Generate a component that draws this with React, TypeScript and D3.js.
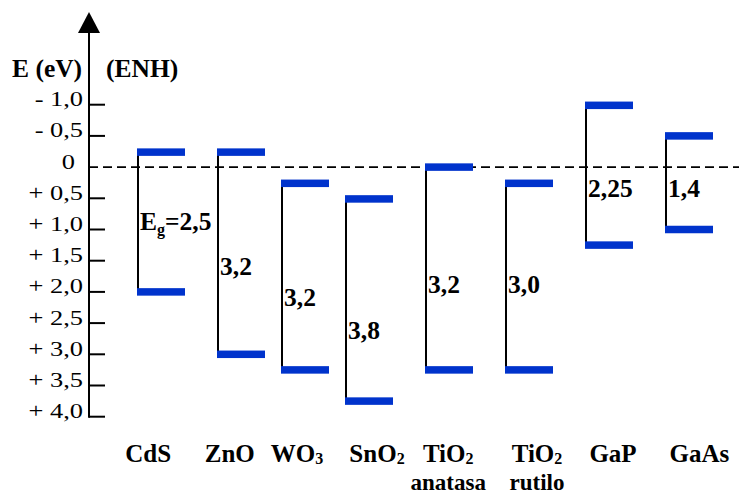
import React from "react";
import * as d3 from "d3";

const names = ["CdS", "ZnO", "WO", "SnO", "TiO", "TiO", "GaP", "GaAs"];
const subs = ["", "", "3", "2", "2", "2", "", ""];
const secondLine = ["", "", "", "", "anatasa", "rutilo", "", ""];
const conductionBand = [-0.24, -0.24, 0.26, 0.51, 0.0, 0.26, -0.99, -0.5];
const valenceBand = [2.0, 3.0, 3.25, 3.75, 3.25, 3.25, 1.25, 1.0];
const gapLabels = ["2,5", "3,2", "3,2", "3,8", "3,2", "3,0", "2,25", "1,4"];
const gapLabelAt = [1.01, 1.73, 2.23, 2.76, 2.02, 2.02, 0.48, 0.48];
const barSlots = [0, 1, 1.8, 2.6, 3.6, 4.6, 5.6, 6.6];
const labelSlots = [0.14, 1.16, 2.0, 3.0, 3.89, 5.0, 5.95, 7.03];
const tickValues = [-1, -0.5, 0, 0.5, 1, 1.5, 2, 2.5, 3, 3.5, 4];
const tickLabels = ["- 1,0", "- 0,5", "0", "+ 0,5", "+ 1,0", "+ 1,5", "+ 2,0", "+ 2,5", "+ 3,0", "+ 3,5", "+ 4,0"];

const W = 739;
const H = 497;
const FONT = "Liberation Serif, Times New Roman, Tinos, DejaVu Serif, Noto Serif, serif";
const BLUE = "#0033cc";

export default function App() {
  const y = d3.scaleLinear().domain([-1, 4]).range([104.7, 416.7]);
  const x = d3.scaleLinear().domain([0, 1]).range([137, 217]);
  const barW = x(0.6) - x(0);
  const axisX = 89;
  const barH = 7.5;
  const textStyle = { fontFamily: FONT };

  return (
    <svg width={W} height={H} style={{ position: "absolute", left: 0, top: 0, background: "#fff" }}>
      <line x1={axisX} x2={W} y1={y(0)} y2={y(0)} stroke="#000" strokeWidth={1.6} strokeDasharray="9,5" />
      <line x1={axisX} x2={axisX} y1={28} y2={y(4) + 1} stroke="#000" strokeWidth={2} />
      <path d={`M${axisX},12 L${axisX - 11},33 L${axisX + 11},33 Z`} fill="#000" />
      {tickValues.map((v, i) => (
        <g key={i}>
          {v !== 0 && <line x1={axisX} x2={axisX + 16} y1={y(v)} y2={y(v)} stroke="#000" strokeWidth={2} />}
          <text
            transform={`translate(${v === 0 ? 75 : 83},${y(v) + 1.5}) scale(1.2,1)`}
            textAnchor="end"
            style={textStyle}
            fontSize={22}
          >
            {tickLabels[i]}
          </text>
        </g>
      ))}
      <text x={12} y={77} style={textStyle} fontSize={25.5} fontWeight="bold">E (eV)</text>
      <text x={106} y={77} style={textStyle} fontSize={25.5} fontWeight="bold">(ENH)</text>

      {names.map((n, i) => {
        const left = x(barSlots[i]);
        const lx = x(labelSlots[i]);
        return (
          <g key={i}>
            <line x1={left + 1} x2={left + 1} y1={y(conductionBand[i]) - 3} y2={y(valenceBand[i]) + 1} stroke="#000" strokeWidth={2} />
            <rect x={left} y={y(conductionBand[i]) - barH / 2} width={barW} height={barH} fill={BLUE} />
            <rect x={left} y={y(valenceBand[i]) - barH / 2} width={barW} height={barH} fill={BLUE} />
            <text x={left + 3} y={y(gapLabelAt[i])} style={textStyle} fontSize={25.5} fontWeight="bold">
              {i === 0 && (
                <>
                  <tspan>E</tspan>
                  <tspan fontSize={16} dy={5}>g</tspan>
                  <tspan dy={-5}>=</tspan>
                </>
              )}
              {gapLabels[i]}
            </text>
            <text x={lx} y={462} textAnchor="middle" style={textStyle} fontSize={25} fontWeight="bold">
              {n}
              {subs[i] && <tspan fontSize={16} dy={2}>{subs[i]}</tspan>}
            </text>
            {secondLine[i] && (
              <text x={lx} y={490} textAnchor="middle" style={textStyle} fontSize={23} fontWeight="bold">
                {secondLine[i]}
              </text>
            )}
          </g>
        );
      })}
    </svg>
  );
}
